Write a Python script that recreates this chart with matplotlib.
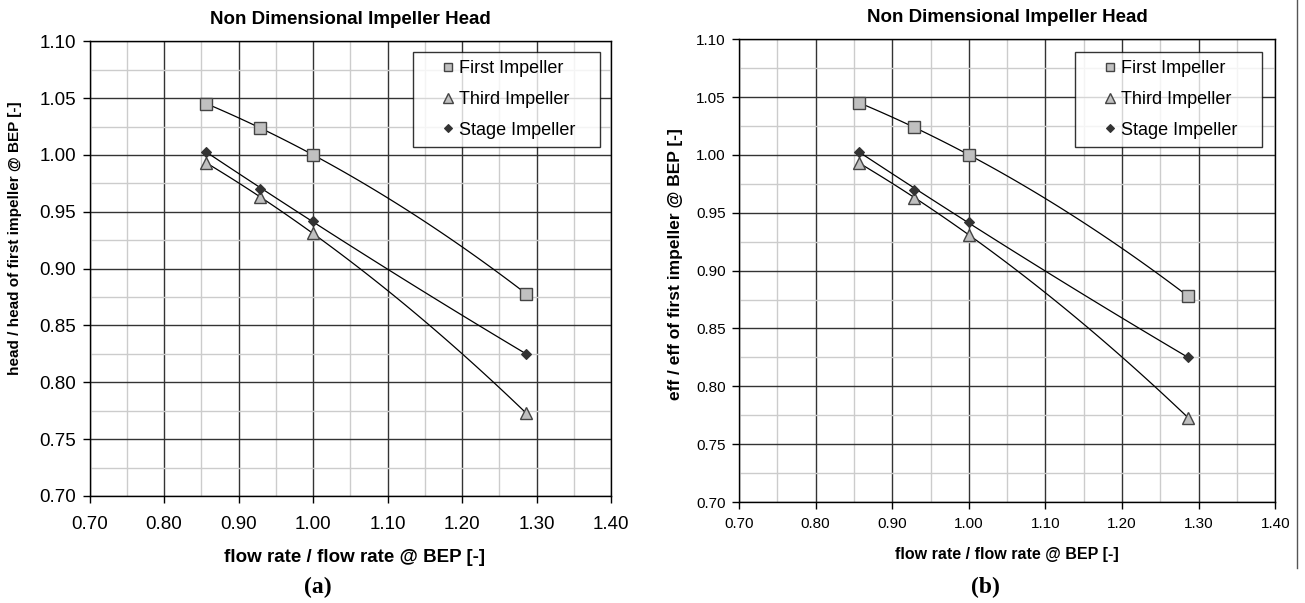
import numpy as np
import matplotlib
matplotlib.use('Agg')
import matplotlib.pyplot as plt
from matplotlib.lines import Line2D
from matplotlib.ticker import MultipleLocator, FormatStrFormatter
from matplotlib import font_manager

plt.rcParams['font.family'] = ['Liberation Sans', 'DejaVu Sans']

# flow rate / flow rate @ BEP
flow = [0.857, 0.929, 1.000, 1.286]
# head ratio (a) and eff ratio (b)
first_imp = [1.045, 1.024, 1.000, 0.878]
third_imp = [0.993, 0.963, 0.931, 0.773]
stage_imp = [1.003, 0.970, 0.942, 0.825]

series_names = ['First Impeller', 'Third Impeller', 'Stage Impeller']
x_ticks = [0.70, 0.80, 0.90, 1.00, 1.10, 1.20, 1.30, 1.40]
y_ticks = [0.70, 0.75, 0.80, 0.85, 0.90, 0.95, 1.00, 1.05, 1.10]

W, H = 1305.0, 603.0

# narrow face for the left y label if it is there
names = set(f.name for f in font_manager.fontManager.ttflist)
if 'Liberation Sans Narrow' in names:
	narrow_fam, narrow_fs = ['Liberation Sans Narrow'], 13
else:
	narrow_fam, narrow_fs = ['Liberation Sans', 'DejaVu Sans'], 11


def draw_panel(ax, ylab, tick_fs, xlab_fs, ylab_fs, leg_box, xpad, ylab_fam):
	styles = [dict(marker='s', ms=8, mfc='#c0c0c0', mec='#444444', mew=1.0),
	          dict(marker='^', ms=9, mfc='#c0c0c0', mec='#444444', mew=1.0),
	          dict(marker='D', ms=5, mfc='#333333', mec='#333333', mew=0.8)]
	handles = []
	for vals, st, name in zip([first_imp, third_imp, stage_imp], styles, series_names):
		# polynomial trendline like the spreadsheet
		c = np.polyfit(flow, vals, 2)
		xs = np.linspace(flow[0], flow[-1], 100)
		ax.plot(xs, np.polyval(c, xs), color='black', lw=0.9, zorder=3)
		ax.plot(flow, vals, ls='none', zorder=4, **st)
		st2 = dict(st)
		st2['ms'] = st['ms'] * 0.75
		handles.append(Line2D([], [], ls='none', label=name, **st2))

	ax.set_xlim(0.70, 1.40)
	ax.set_ylim(0.70, 1.10)
	ax.set_xticks(x_ticks)
	ax.set_yticks(y_ticks)
	ax.xaxis.set_major_formatter(FormatStrFormatter('%.2f'))
	ax.yaxis.set_major_formatter(FormatStrFormatter('%.2f'))
	ax.xaxis.set_minor_locator(MultipleLocator(0.05))
	ax.yaxis.set_minor_locator(MultipleLocator(0.025))
	ax.grid(which='minor', color='#cccccc', lw=1.0)
	ax.grid(which='major', color='#333333', lw=1.0)
	ax.set_axisbelow(True)
	ax.tick_params(which='major', direction='out', length=5, width=1, labelsize=tick_fs)
	ax.tick_params(axis='x', which='major', pad=xpad)
	ax.tick_params(axis='y', which='major', pad=4.5)
	ax.tick_params(which='minor', length=0)
	for s in ax.spines.values():
		s.set_color('black')
		s.set_linewidth(1.0)

	ax.set_title('Non Dimensional Impeller Head', fontsize=13.5, fontweight='bold', y=1.02)
	ax.set_xlabel('flow rate / flow rate @ BEP [-]', fontsize=xlab_fs, fontweight='bold')
	ax.set_ylabel(ylab, fontsize=ylab_fs, fontweight='bold', family=ylab_fam)

	leg = ax.legend(handles=handles, loc='upper left', bbox_to_anchor=leg_box, mode='expand',
	                fontsize=13, frameon=True, fancybox=False, borderpad=0.45,
	                labelspacing=0.76, handlelength=3.0, handletextpad=-0.88, borderaxespad=0)
	leg.get_frame().set_edgecolor('black')
	leg.get_frame().set_linewidth(1.0)
	return ax


fig = plt.figure(figsize=(W / 100, H / 100), dpi=100)

# left panel (a)
axa = fig.add_axes([89.5 / W, 1 - 496 / H, (611 - 89.5) / W, (496 - 41.3) / H])
draw_panel(axa, 'head / head of first impeller @ BEP [-]', 13.5, 13.5, narrow_fs,
           (0.62, 0.7675, 0.359, 0.209), 9.5, narrow_fam)
axa.xaxis.set_label_coords(0.509, -0.117)
axa.yaxis.set_label_coords(-0.129, 0.567)

# right panel (b)
axb = fig.add_axes([739 / W, 1 - 502 / H, (1275.3 - 739) / W, (502 - 39.3) / H])
draw_panel(axb, 'eff / eff of first impeller @ BEP [-]', 11, 11.5, 12.5,
           (0.6265, 0.767, 0.3485, 0.2056), 6, ['Liberation Sans', 'DejaVu Sans'])
axb.xaxis.set_label_coords(0.5, -0.097)
axb.yaxis.set_label_coords(-0.104, 0.514)

fig.text(318 / W, 1 - 587 / H, '(a)', fontsize=17, fontweight='bold',
         family=['Liberation Serif', 'DejaVu Serif'], ha='center', va='center')
fig.text(985 / W, 1 - 587 / H, '(b)', fontsize=17, fontweight='bold',
         family=['Liberation Serif', 'DejaVu Serif'], ha='center', va='center')

# page border on the right side
fig.add_artist(Line2D([1297 / W, 1297 / W], [1.0, 1 - 568 / H], color='#555555', lw=1.0))

fig.savefig('out.png', dpi=100)
